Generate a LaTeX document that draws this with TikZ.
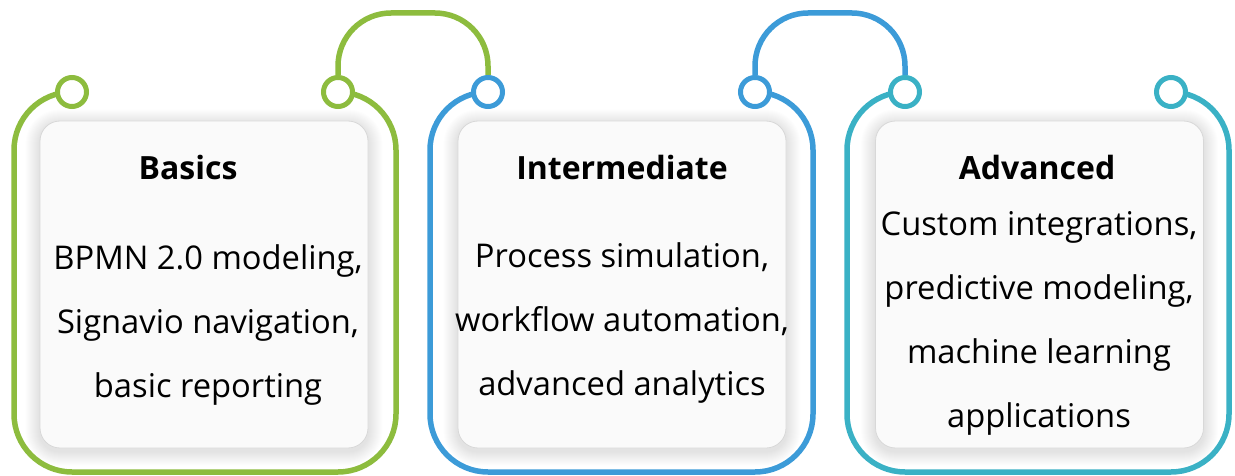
\documentclass[tikz,border=0pt]{standalone}
\usepackage{fontspec}
\setmainfont{Open Sans}
\usetikzlibrary{calc,backgrounds}
\definecolor{basicgreen}{RGB}{141,188,62}
\definecolor{midblue}{RGB}{60,155,216}
\definecolor{advteal}{RGB}{58,177,197}
\definecolor{cardfill}{RGB}{250,250,250}
\definecolor{cardline}{RGB}{216,216,216}
\tikzset{stage frame/.style={line width=5.5pt, rounded corners=58pt}}
\tikzset{link arch/.style={line width=5.5pt, rounded corners=53pt}}
\tikzset{stage ring/.style={circle, line width=5pt, minimum size=29pt, inner sep=0pt, fill=white}}
\tikzset{stage card/.style={draw=cardline, fill=cardfill, line width=0.8pt, rounded corners=20pt, minimum width=328pt, minimum height=327pt, inner sep=0pt}}
\tikzset{stage title/.style={font=\fontsize{32}{38}\selectfont\bfseries, anchor=base, inner sep=0pt}}
\tikzset{stage text/.style={font=\fontsize{32.7}{64}\selectfont, align=center, inner sep=0pt}}
\newcommand{\cardshadow}[1]{%
  \foreach \s in {1,...,14}{
    \pgfmathsetmacro{\rc}{20+\s}
    \fill[black, opacity=0.009, rounded corners=\rc pt] ($(#1.south west)+(-\s,\s+3)$) rectangle ($(#1.north east)+(\s,-\s+3)$);
  }}

\begin{document}
\begin{tikzpicture}[x=1pt,y=-1pt]
	\useasboundingbox (0,0) rectangle (1235,476);

	% rings on the frame ends
	\node[stage ring, draw=basicgreen] (b-left) at (72,92) {};
	\node[stage ring, draw=basicgreen] (b-right) at (338,92) {};
	\node[stage ring, draw=midblue] (i-left) at (488,92) {};
	\node[stage ring, draw=midblue] (i-right) at (755,92) {};
	\node[stage ring, draw=advteal] (a-left) at (905,92) {};
	\node[stage ring, draw=advteal] (a-right) at (1171,92) {};

	% cards
	\node[stage card] (b-card) at (204,284.5) {};
	\node[stage card] (i-card) at (622,284.5) {};
	\node[stage card] (a-card) at (1039.5,284.5) {};

	\node[stage title] (b-title) at (188,179) {Basics};
	\node[stage title] (i-title) at (622,179) {Intermediate};
	\node[stage title] (a-title) at (1037,179) {Advanced};

	\node[stage text] (b-text) at (208,325) {BPMN 2.0 modeling,\\Signavio navigation,\\basic reporting};
	\node[stage text] (i-text) at (622,323) {Process simulation,\\workflow automation,\\advanced analytics};
	\node[stage text] (a-text) at (1039,323) {Custom integrations,\\predictive modeling,\\machine learning\\applications};

	\begin{scope}[on background layer]
		\cardshadow{b-card}
		\cardshadow{i-card}
		\cardshadow{a-card}
		% open frames
		\draw[stage frame, basicgreen] (b-left.center) -| (14,472) -| (396,92) -- (b-right.center);
		\draw[stage frame, midblue] (i-left.center) -| (430,472) -| (813,92) -- (i-right.center);
		\draw[stage frame, advteal] (a-left.center) -| (847,472) -| (1229,92) -- (a-right.center);
		% arches between stages
		\coordinate (archtop) at (0,13);
		\draw[link arch, basicgreen] (b-right.north) |- (i-left.north |- archtop) -- (i-left.north);
		\draw[link arch, midblue] (i-right.north) |- (a-left.north |- archtop) -- (a-left.north);
	\end{scope}
\end{tikzpicture}
\end{document}
